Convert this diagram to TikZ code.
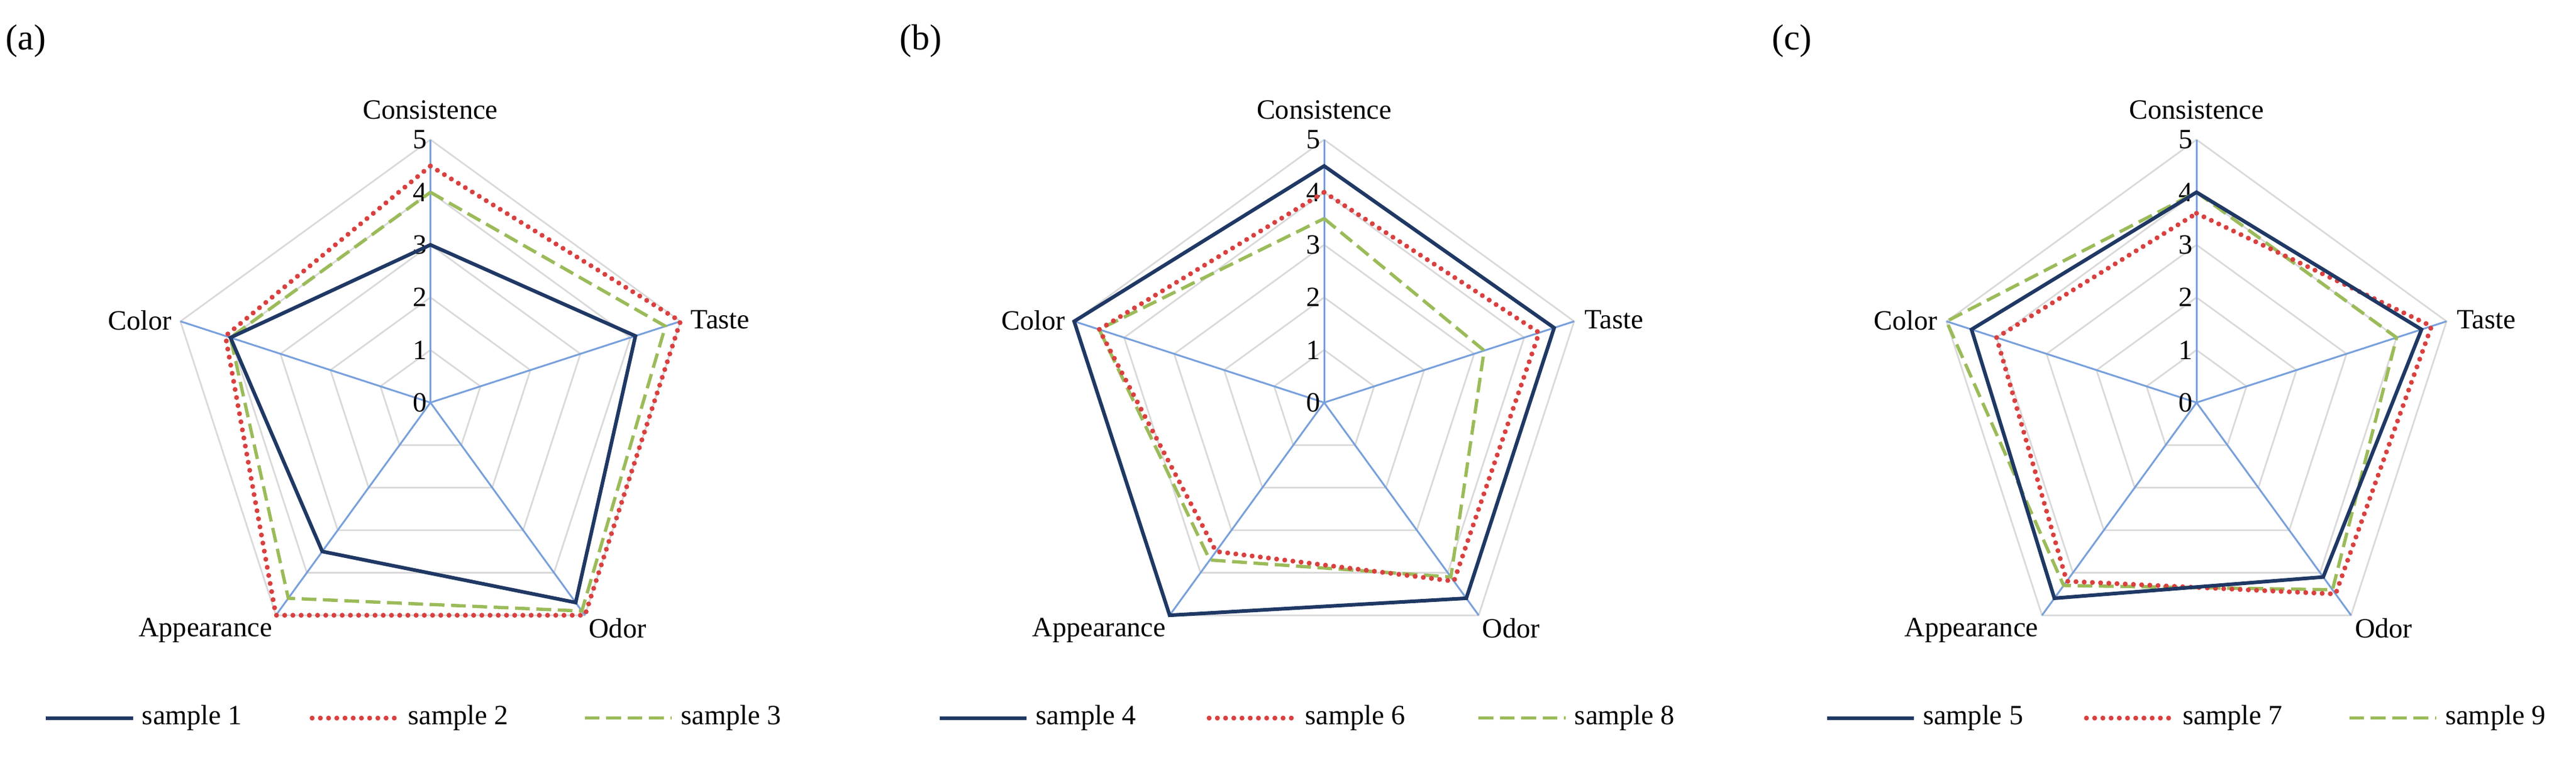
\documentclass[tikz,border=0pt]{standalone}
\usepackage{fontspec}
\setmainfont{Liberation Serif}
\begin{document}
\begin{tikzpicture}[x=1pt,y=1pt,
  grid/.style={draw=black!15,line width=1pt},
  ax/.style={line width=1.1pt,color={rgb,255:red,120;green,160;blue,220}},
  sA/.style={draw={rgb,255:red,31;green,56;blue,100},line width=2.2pt,line join=miter},
  sB/.style={draw={rgb,255:red,217;green,64;blue,63},line width=3pt,dash pattern=on 0pt off 5pt,line cap=round},
  sC/.style={draw={rgb,255:red,155;green,187;blue,89},line width=2pt,dash pattern=on 9pt off 4pt},
  lbl/.style={font=\fontsize{17}{20}\selectfont},
  plbl/.style={font=\fontsize{22}{26}\selectfont},
  tk/.style={font=\fontsize{17}{20}\selectfont,anchor=east,inner sep=2pt}]
\useasboundingbox (0,0) rectangle (1568,-461);
\def\R{32}
\newcommand\radar[5]{%
 \begin{scope}[shift={(#1,-245)}]
  \foreach \k in {1,...,5}{\draw[grid] (90:\k*\R)--(18:\k*\R)--(-54:\k*\R)--(-126:\k*\R)--(162:\k*\R)--cycle;}
  \foreach \a in {90,18,-54,-126,162}{\draw[ax] (0,0)--(\a:5*\R);}
  \foreach \k in {0,...,5}{\node[tk] (t\k) at (0,\k*\R) {\k};}
  \node[lbl,anchor=south] (c1) at (90:5*\R+9) {Consistence};
  \node[lbl,anchor=west] (c2) at (18:5*\R+3) {Taste};
  \node[lbl,anchor=north west] (c3) at (-54:5*\R-2) {Odor};
  \node[lbl,anchor=north east] (c4) at (-126:5*\R-2) {Appearance};
  \node[lbl,anchor=east] (c5) at (162:5*\R+2) {Color};
  #2 #3 #4
 \end{scope}
 \node[plbl,anchor=west] (p#5) at (#1-262,-25) {(#5)};}
\newcommand\poly[6]{\draw[#1] (90:#2*\R)--(18:#3*\R)--(-54:#4*\R)--(-126:#5*\R)--(162:#6*\R)--cycle;}
\newcommand\leg[3]{\draw[#2] (#1,-437)--(#1+53,-437); \node[lbl,anchor=west] at (#1+55,-437) {#3};}
\radar{262}{\poly{sC}{4}{4.7}{4.9}{4.6}{4}}{\poly{sB}{4.5}{5}{5}{5}{4.1}}{\poly{sA}{3}{4.1}{4.7}{3.5}{4}}{a}
\radar{806}{\poly{sC}{3.5}{3.2}{4.1}{3.7}{4.5}}{\poly{sB}{4}{4.3}{4.2}{3.5}{4.5}}{\poly{sA}{4.5}{4.6}{4.6}{5}{5}}{b}
\radar{1337}{\poly{sC}{4}{4}{4.4}{4.3}{5}}{\poly{sB}{3.6}{4.7}{4.5}{4.2}{4}}{\poly{sA}{4}{4.5}{4.1}{4.6}{4.5}}{c}
\leg{28}{sA}{sample 1}\leg{190}{sB}{sample 2}\leg{356}{sC}{sample 3}
\leg{572}{sA}{sample 4}\leg{736}{sB}{sample 6}\leg{900}{sC}{sample 8}
\leg{1112}{sA}{sample 5}\leg{1270}{sB}{sample 7}\leg{1430}{sC}{sample 9}
\end{tikzpicture}
\end{document}
